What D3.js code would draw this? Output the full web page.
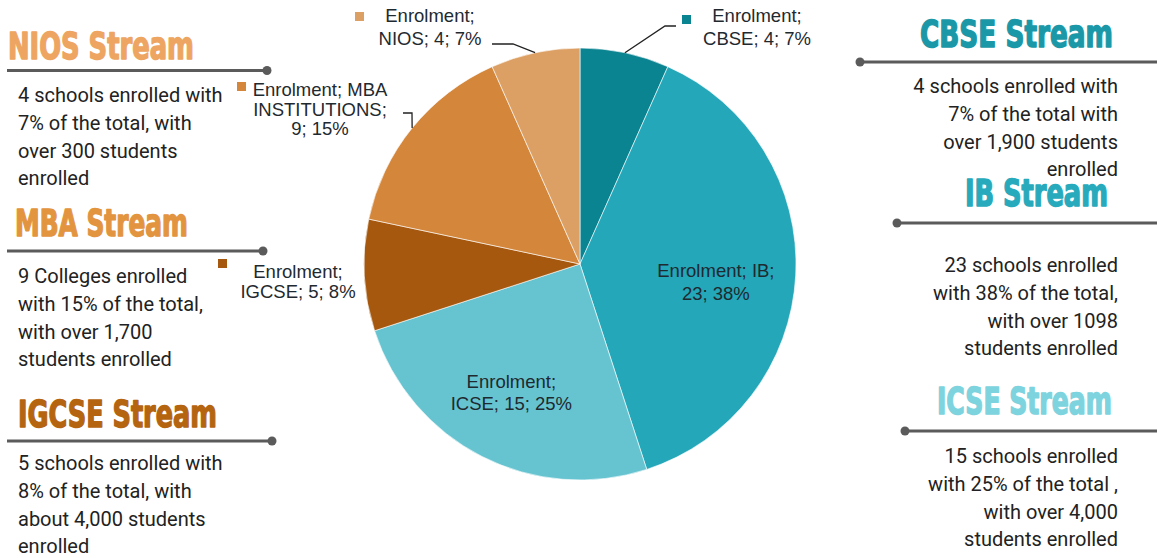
<!DOCTYPE html>
<html>
<head>
<meta charset="utf-8">
<script src="https://cdn.jsdelivr.net/npm/d3@7"></script>
<style>
  html, body { margin: 0; padding: 0; background: #ffffff; }
  svg { display: block; }
</style>
</head>
<body>
<svg id="chart" width="1157" height="558"></svg>
<script>
// ---------- data ----------
const categories = ["CBSE", "IB", "ICSE", "IGCSE", "MBA INSTITUTIONS", "NIOS"];
const schools    = [4, 23, 15, 5, 9, 4];
const percents   = ["7%", "38%", "25%", "8%", "15%", "7%"];
const sliceColors = ["#0b8492", "#23a7b9", "#66c4d1", "#a5580e", "#d4863a", "#dca064"];

const panelTitles = ["NIOS Stream", "MBA Stream", "IGCSE Stream", "CBSE Stream", "IB Stream", "ICSE Stream"];
const panelTitleColors = ["#eda561", "#e3943f", "#b5640f", "#1a98a8", "#27aabc", "#7dd3de"];
const panelTexts = [
  ["4 schools enrolled with", "7% of the total, with", "over 300 students", "enrolled"],
  ["9 Colleges enrolled", "with 15% of the total,", "with over 1,700", "students enrolled"],
  ["5 schools enrolled with", "8% of the total, with", "about 4,000 students", "enrolled"],
  ["4 schools enrolled with", "7% of the total with", "over 1,900 students", "enrolled"],
  ["23 schools enrolled", "with 38% of the total,", "with over 1098", "students enrolled"],
  ["15 schools enrolled", "with 25% of the total ,", "with over 4,000", "students enrolled"]
];

// ---------- layout (positions & styles) ----------
const W = 1157, H = 558;
const cx = 580, cy = 264, R = 216;
const svg = d3.select("#chart");

const labelLines = categories.map((c, i) => {
  const n = schools[i], p = percents[i];
  if (c === "IB") return [`Enrolment; ${c};`, `${n}; ${p}`];
  if (c === "MBA INSTITUTIONS") { const w = c.split(" "); return [`Enrolment; ${w[0]}`, `${w[1]};`, `${n}; ${p}`]; }
  return ["Enrolment;", `${c}; ${n}; ${p}`];
});

// label placement: inner labels use arc angle; outer ones positioned beside pie
const labelLayout = [
  { outer: true, x: 757, y: 22, lh: 23, marker: [682, 15], leader: [[665, 26], [676, 26]] },  // CBSE
  { outer: false, rf: 0.63, dy: 11, lh: 23 },                                                    // IB
  { outer: false, rf: 0.70, dy: -5.5, lh: 22 },                                                  // ICSE
  { outer: true, x: 298, y: 278, lh: 19.5, marker: [218, 259], leader: null },                  // IGCSE
  { outer: true, x: 320, y: 96, lh: 19.5, marker: [237, 82], leader: [[412, 113], [403, 113]] }, // MBA
  { outer: true, x: 430, y: 22, lh: 23, marker: [355, 12], leader: [[513, 44], [492, 44]] }      // NIOS
];

const panelLayout = [
  { side: "L", titleX: 8,    titleY: 59,  titleW: 186, lineY: 70.5, lineX1: 7,   lineX2: 267, textY: 102 },
  { side: "L", titleX: 15,   titleY: 236, titleW: 173, lineY: 251,  lineX1: 7,   lineX2: 263, textY: 283 },
  { side: "L", titleX: 18,   titleY: 427, titleW: 199, lineY: 441,  lineX1: 7,   lineX2: 272, textY: 470 },
  { side: "R", titleX: 1113, titleY: 47,  titleW: 193, lineY: 62,   lineX1: 860, lineX2: 1157, textY: 93 },
  { side: "R", titleX: 1108, titleY: 206, titleW: 143, lineY: 223,  lineX1: 897, lineX2: 1157, textY: 272 },
  { side: "R", titleX: 1112, titleY: 414, titleW: 175, lineY: 431,  lineX1: 905, lineX2: 1157, textY: 463 }
];

// ---------- pie ----------
const pie = d3.pie().sort(null).value(d => d);
const arcs = pie(schools);
const arc = d3.arc().innerRadius(0).outerRadius(R);

const g = svg.append("g").attr("transform", `translate(${cx},${cy})`);
g.selectAll("path.slice")
  .data(arcs)
  .join("path")
  .attr("class", "slice")
  .attr("d", arc)
  .attr("fill", (d, i) => sliceColors[i])
  .attr("stroke", "#ffffff")
  .attr("stroke-width", 0.6);

// ---------- pie labels ----------
const labelFont = "'Liberation Sans', Arial, sans-serif";
arcs.forEach((a, i) => {
  const L = labelLayout[i];
  const lines = labelLines[i];
  const mid = (a.startAngle + a.endAngle) / 2;
  let x, y0;
  if (L.outer) {
    x = L.x; y0 = L.y;
    svg.append("rect")
      .attr("x", L.marker[0]).attr("y", L.marker[1])
      .attr("width", 9).attr("height", 9)
      .attr("fill", sliceColors[i]);
    if (L.leader) {
      const p0 = [cx + R * Math.sin(mid), cy - R * Math.cos(mid)];
      svg.append("polyline")
        .attr("points", [p0].concat(L.leader).map(p => p.join(",")).join(" "))
        .attr("fill", "none")
        .attr("stroke", "#222")
        .attr("stroke-width", 1.3);
    }
  } else {
    const r = R * L.rf;
    x = cx + r * Math.sin(mid);
    const yc = cy - r * Math.cos(mid) + L.dy;
    y0 = yc - (lines.length - 1) * L.lh / 2 + 6;
  }
  const t = svg.append("text")
    .attr("text-anchor", "middle")
    .attr("font-family", labelFont)
    .attr("font-size", 18.5)
    .attr("fill", "#1f2a30");
  lines.forEach((ln, k) => {
    t.append("tspan").attr("x", x).attr("y", y0 + k * L.lh).text(ln);
  });
});

// ---------- side panels ----------
panelTitles.forEach((title, i) => {
  const P = panelLayout[i];
  const right = P.side === "R";
  // heading: measured, then scaled horizontally to the reference width
  const hg = svg.append("g");
  const ht = hg.append("text")
    .attr("x", 0).attr("y", 0)
    .attr("font-family", "'Liberation Sans Narrow', 'DejaVu Sans Condensed', 'Roboto Condensed', sans-serif")
    .attr("font-weight", "bold")
    .attr("font-size", 37)
    .attr("fill", panelTitleColors[i])
    .attr("stroke", panelTitleColors[i])
    .attr("stroke-width", 1.4)
    .attr("stroke-linejoin", "round")
    .text(title);
  const natural = ht.node().getComputedTextLength();
  const sx = P.titleW / natural;
  const x0 = right ? P.titleX - P.titleW : P.titleX;
  hg.attr("transform", `translate(${x0},${P.titleY}) scale(${sx},1)`);

  svg.append("line")
    .attr("x1", P.lineX1).attr("x2", P.lineX2)
    .attr("y1", P.lineY).attr("y2", P.lineY)
    .attr("stroke", "#5b5b5b").attr("stroke-width", 3);
  svg.append("circle")
    .attr("cx", right ? P.lineX1 : P.lineX2).attr("cy", P.lineY)
    .attr("r", 4.5).attr("fill", "#5b5b5b");

  const t = svg.append("text")
    .attr("text-anchor", right ? "end" : "start")
    .attr("font-family", "Roboto, 'Open Sans', sans-serif")
    .attr("font-size", 20)
    .attr("fill", "#222222");
  panelTexts[i].forEach((ln, k) => {
    t.append("tspan")
      .attr("x", right ? 1118 : 18)
      .attr("y", P.textY + k * 27.8)
      .text(ln);
  });
});
</script>
</body>
</html>
